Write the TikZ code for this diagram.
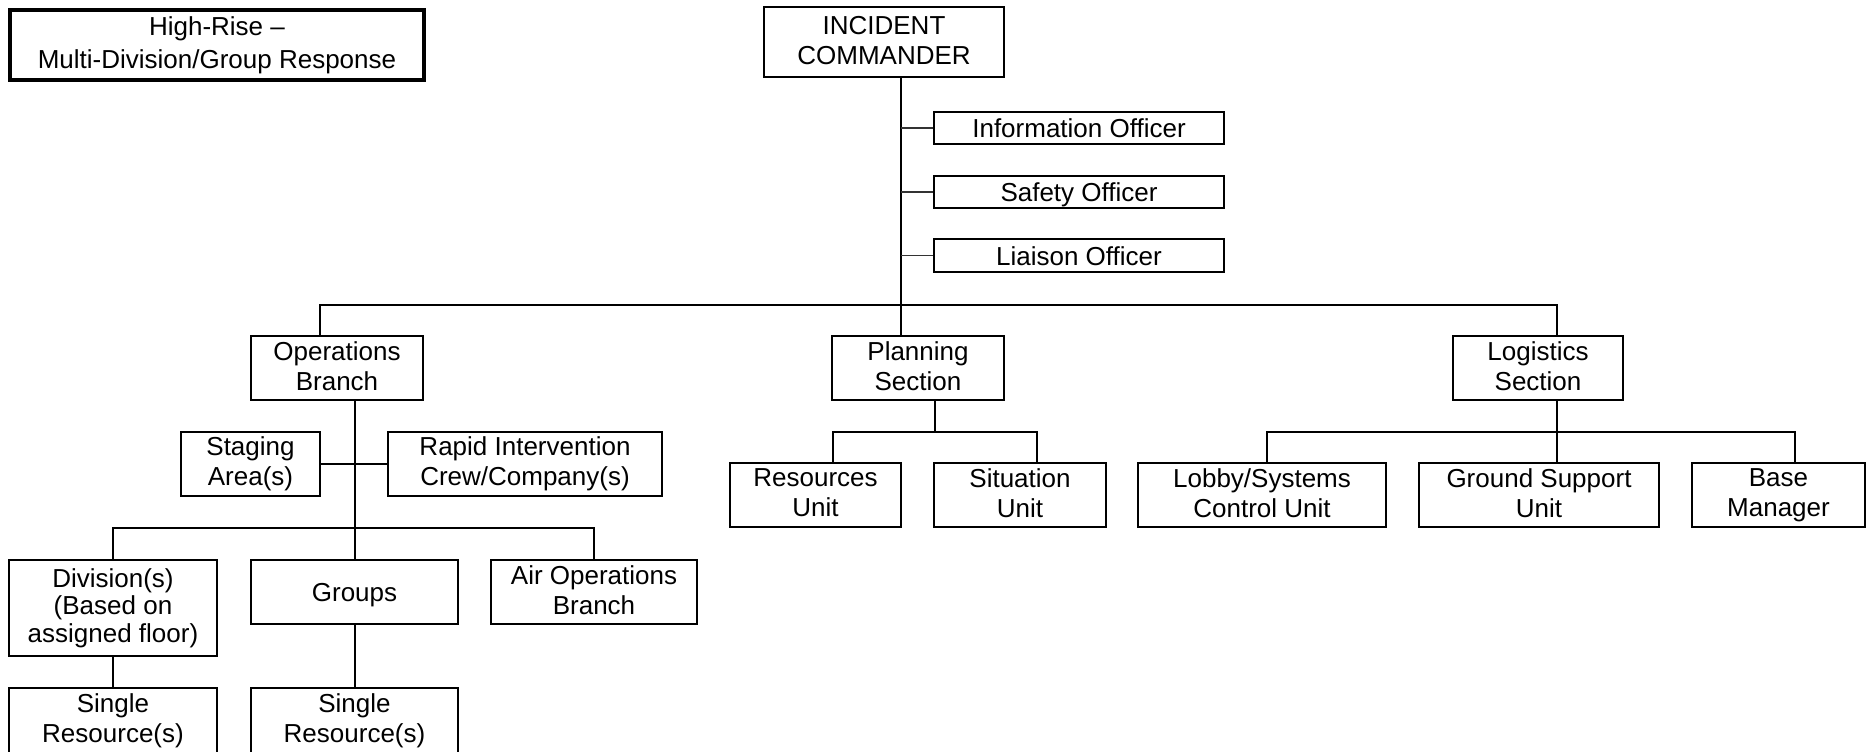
\documentclass[tikz,border=0pt]{standalone}
\usepackage{fontspec}
\setmainfont{Liberation Sans}
\usepackage{tikz}

\newcommand{\boxstrut}{\rule[-2pt]{0pt}{13.7pt}}

\tikzset{
  box/.style={draw, line width=1pt, rectangle, inner sep=0pt, align=center,
    font=\fontsize{13pt}{15pt}\selectfont,
    execute at begin node=\boxstrut, execute at end node=\boxstrut},
  link/.style={line width=0.85pt},
  thinlink/.style={line width=0.7pt, black!80}
}

\begin{document}
\begin{tikzpicture}[x=0.5pt, y=-0.5pt]
      \useasboundingbox (0,0) rectangle (1867,751);

      % Draw the title
      \node[box, line width=2pt, minimum width=207pt, minimum height=35pt,
        font=\fontsize{13pt}{16.5pt}\selectfont] (title) at (217,45) {High-Rise --\\Multi-Division/Group Response};

      % Draw the command staff
      \node[box, minimum width=120pt, minimum height=35pt] (IC) at (884,42) {INCIDENT\\COMMANDER};
      \node[box, minimum width=145pt, minimum height=16pt] (info) at (1079,128) {Information Officer};
      \node[box, minimum width=145pt, minimum height=16pt] (safety) at (1079,192) {Safety Officer};
      \node[box, minimum width=145pt, minimum height=16.5pt] (liaison) at (1079,255.5) {Liaison Officer};

      % Draw the sections
      \node[box, minimum width=86pt, minimum height=32pt] (ops) at (337,368) {Operations\\Branch};
      \node[box, minimum width=86pt, minimum height=32pt] (planning) at (918,368) {Planning\\Section};
      \node[box, minimum width=85pt, minimum height=32pt] (logistics) at (1538,368) {Logistics\\Section};

      % Draw the operations boxes
      \node[box, minimum width=69.5pt, minimum height=32pt] (staging) at (250.5,464) {Staging\\Area(s)};
      \node[box, minimum width=137pt, minimum height=32pt] (rapid) at (525,464) {Rapid Intervention\\Crew/Company(s)};
      \node[box, minimum width=104pt, minimum height=48pt,
        font=\fontsize{13pt}{13.75pt}\selectfont] (division) at (113,608) {Division(s)\\(Based on\\assigned floor)};
      \node[box, minimum width=103.5pt, minimum height=32pt] (groups) at (354.5,592) {Groups};
      \node[box, minimum width=103pt, minimum height=32pt] (airops) at (594,592) {Air Operations\\Branch};
      \node[box, minimum width=104pt, minimum height=33pt] (single1) at (113,721) {Single\\Resource(s)};
      \node[box, minimum width=103.5pt, minimum height=33pt] (single2) at (354.5,721) {Single\\Resource(s)};

      % Draw the planning units
      \node[box, minimum width=85.5pt, minimum height=32pt] (resources) at (815.5,495) {Resources\\Unit};
      \node[box, minimum width=86pt, minimum height=32pt] (situation) at (1020,495) {Situation\\Unit};

      % Draw the logistics units
      \node[box, minimum width=124pt, minimum height=32pt] (lobby) at (1262,495) {Lobby/Systems\\Control Unit};
      \node[box, minimum width=120pt, minimum height=32pt] (ground) at (1539,495) {Ground Support\\Unit};
      \node[box, minimum width=86.5pt, minimum height=32pt] (base) at (1778.5,495) {Base\\Manager};

      % Junction points
      \coordinate (trunk) at (901,305);
      \coordinate (opsTop) at (320,305);
      \coordinate (logTop) at (1557,305);
      \coordinate (opsBus) at (355,528);
      \coordinate (divL) at (113,528);
      \coordinate (divR) at (594,528);
      \coordinate (planBus) at (935,432);
      \coordinate (resTop) at (833,432);
      \coordinate (sitTop) at (1037,432);
      \coordinate (logBus) at (1557,432);
      \coordinate (lobTop) at (1267,432);
      \coordinate (baseTop) at (1795,432);

      % Draw the edges
      \draw[link] (IC.south -| trunk) -- (planning.north -| trunk);
      \draw[thinlink] (info.west -| trunk) -- (info.west);
      \draw[thinlink] (safety.west -| trunk) -- (safety.west);
      \draw[thinlink] (liaison.west -| trunk) -- (liaison.west);
      \draw[link] (ops.north -| opsTop) -- (opsTop) -- (logTop) -- (logistics.north -| logTop);

      \draw[link] (ops.south -| opsBus) -- (groups.north -| opsBus);
      \draw[link] (staging.east) -- (rapid.west);
      \draw[link] (division.north -| divL) -- (divL) -- (divR) -- (airops.north -| divR);
      \draw[link] (division.south) -- (single1.north);
      \draw[link] (groups.south -| opsBus) -- (single2.north -| opsBus);

      \draw[link] (planning.south -| planBus) -- (planBus);
      \draw[link] (resources.north -| resTop) -- (resTop) -- (sitTop) -- (situation.north -| sitTop);

      \draw[link] (logistics.south -| logBus) -- (ground.north -| logBus);
      \draw[link] (lobby.north -| lobTop) -- (lobTop) -- (baseTop) -- (base.north -| baseTop);
    \end{tikzpicture}
\end{document}
